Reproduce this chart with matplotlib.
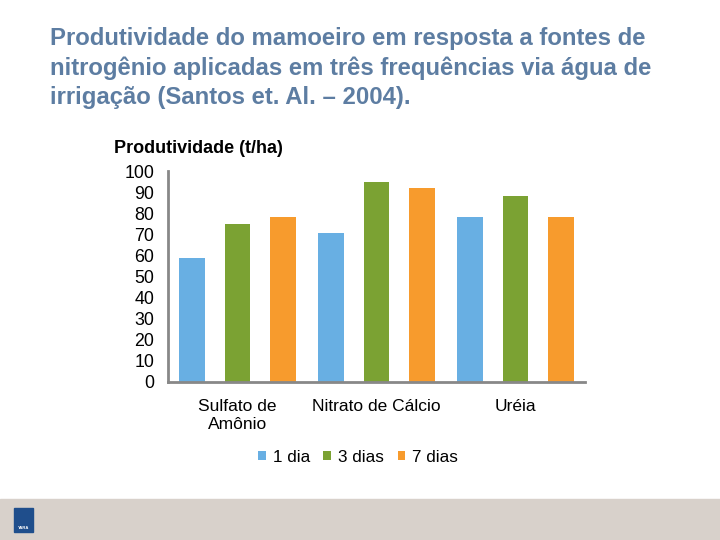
import matplotlib.pyplot as plt
import numpy as np

plt.rcParams['font.family'] = ['Liberation Sans', 'DejaVu Sans']

## Data ##
categorias = ['Sulfato de\nAmônio', 'Nitrato de Cálcio', 'Uréia']
dia_1 = [59, 70.5, 78]
dias_3 = [75, 95, 88]
dias_7 = [78, 92, 78]
series_labels = ['1 dia', '3 dias', '7 dias']
y_ticks = list(range(0, 101, 10))

cores = ['#68AFE3', '#7BA233', '#F79B2D']

fig = plt.figure(figsize=(7.2, 5.4), dpi=100)

# faixa cinza no rodape + logo
fig.patches.append(plt.Rectangle((0, 0), 1, 41 / 540, transform=fig.transFigure,
                                 color='#D8D1CB', zorder=0))
fig.patches.append(plt.Rectangle((14 / 720, 8 / 540), 19 / 720, 24 / 540,
                                 transform=fig.transFigure, color='#1F4E8C', zorder=1))
fig.text(23.5 / 720, 12 / 540, 'YARA', fontsize=3, color='white', fontweight='bold',
         ha='center', va='center')

fig.text(50 / 720, 1 - 27 / 540,
         'Produtividade do mamoeiro em resposta a fontes de\n'
         'nitrogênio aplicadas em três frequências via água de\n'
         'irrigação (Santos et. Al. – 2004).',
         fontsize=17.2, fontweight='bold', color='#5D7DA2', va='top', ha='left',
         linespacing=1.33)

ax = fig.add_axes([168 / 720, 1 - 382 / 540, 417 / 720, 211 / 540])

x = np.arange(len(categorias))
largura = 0.187
desloc = 0.327
for i, (vals, cor, lab) in enumerate(zip([dia_1, dias_3, dias_7], cores, series_labels)):
    ax.bar(x + (i - 1) * desloc, vals, largura, color=cor, label=lab)

ax.set_xlim(-0.5, 2.5)
ax.set_ylim(0, 100)
ax.set_yticks(y_ticks)
ax.set_yticklabels([str(t) for t in y_ticks], fontsize=12.8)
ax.set_xticks(x)
ax.set_xticklabels(categorias, fontsize=12.5, linespacing=1.3)
ax.tick_params(axis='y', length=0, pad=10)
ax.tick_params(axis='x', length=0, pad=12)

for s in ['top', 'right']:
    ax.spines[s].set_visible(False)
for s in ['left', 'bottom']:
    ax.spines[s].set_color('#888888')
    ax.spines[s].set_linewidth(2)

fig.text(114 / 720, 1 - 148 / 540, 'Produtividade (t/ha)', fontsize=13,
         fontweight='bold', va='center', ha='left')

leg = fig.legend(loc='center', bbox_to_anchor=(358 / 720, 1 - 457 / 540), ncol=3,
                 frameon=False, fontsize=12.3, handlelength=0.45, handleheight=0.45,
                 handletextpad=0.4, columnspacing=0.8)

plt.savefig('out.png', dpi=100)
